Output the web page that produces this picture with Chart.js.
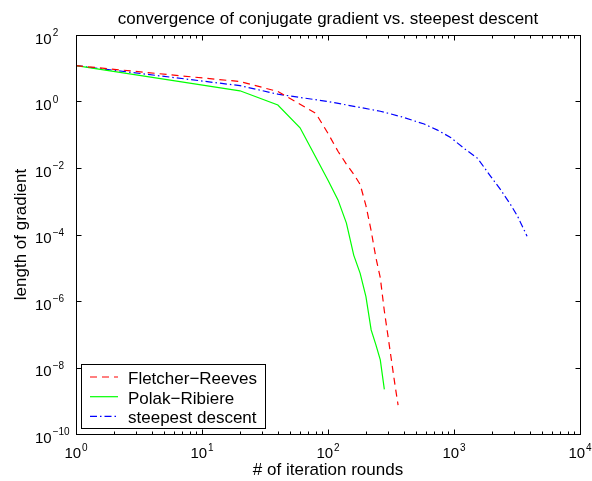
<!DOCTYPE html>
<html>
<head>
<meta charset="utf-8">
<script src="https://cdn.jsdelivr.net/npm/chart.js@4.4.1/dist/chart.umd.min.js"></script>
<style>
  html, body { margin: 0; padding: 0; background: #fff; }
</style>
</head>
<body>
<canvas id="cg" width="592" height="481"></canvas>
<script>
// iteration counts (x) and gradient length (y)
const iterFR = [1, 20, 40, 60, 80, 100, 120, 140, 160, 180, 200, 220, 240, 260, 280, 300, 320, 340, 360];
const fletcherReeves = [12.0, 3.98, 2.0, 0.83, 0.44, 0.11, 0.032, 0.013, 6.5e-3, 3.2e-3, 7.4e-4, 1.3e-4, 2.0e-5, 5.0e-6, 5.0e-7, 8.3e-8, 1.5e-8, 3.0e-9, 7.4e-10];

const iterPR = [1, 20, 40, 60, 80, 100, 120, 140, 160, 180, 200, 220, 240, 260, 280];
const polakRibiere = [12.0, 2.1, 0.785, 0.162, 0.021, 4.3e-3, 1.1e-3, 2.2e-4, 2.4e-5, 6.8e-6, 1.35e-6, 1.35e-7, 4.8e-8, 1.7e-8, 2.2e-9];

const iterSD = [1, 20, 40, 100, 260, 380, 580, 740, 940, 1200, 1540, 1960, 2350, 2820, 3200, 3800];
const steepestDescent = [12.0, 3.0, 1.66, 1.0, 0.51, 0.35, 0.21, 0.138, 0.083, 0.039, 0.0195, 5.5e-3, 2.2e-3, 7.8e-4, 3.5e-4, 8.9e-5];

const seriesNames = ['Fletcher\u2212Reeves', 'Polak\u2212Ribiere', 'steepest descent'];
const xTickExp = [0, 1, 2, 3, 4];
const yTickExp = [2, 0, -2, -4, -6, -8, -10];

const FONT = '"Liberation Sans", Arial, Helvetica, sans-serif';

const toPoints = (xs, ys) => xs.map((v, i) => ({ x: v, y: ys[i] }));

// "10" with a raised exponent, like the original axis labels
function powLabel(ctx, e, x0, base, centered) {
  const b = '10', s = String(e).replace('-', '\u2212');
  ctx.font = '15px ' + FONT;
  const wb = ctx.measureText(b).width;
  ctx.font = '10px ' + FONT;
  const ws = ctx.measureText(s).width;
  const left = centered ? x0 - (wb + 1 + ws) / 2 : x0;
  ctx.font = '15px ' + FONT;
  ctx.fillText(b, left, base);
  ctx.font = '10px ' + FONT;
  ctx.fillText(s, left + wb + 1, base - 7.5);
}

const matlabFrame = {
  id: 'matlabFrame',
  afterDraw(chart) {
    const { ctx, chartArea: a, scales: { x, y } } = chart;
    ctx.save();
    ctx.strokeStyle = '#000';
    ctx.fillStyle = '#000';
    ctx.lineWidth = 1;
    ctx.setLineDash([]);
    const L = a.left + 0.5, R = a.right + 0.5, T = a.top + 0.5, B = a.bottom + 0.5;
    ctx.strokeRect(L, T, R - L, B - T);

    ctx.beginPath();
    for (let d = 0; d < 4; d++) {
      for (let k = 1; k < 10; k++) {
        const px = Math.round(x.getPixelForValue(k * Math.pow(10, d))) + 0.5;
        const len = k === 1 ? 5 : 3;
        ctx.moveTo(px, B); ctx.lineTo(px, B - len);
        ctx.moveTo(px, T); ctx.lineTo(px, T + len);
      }
    }
    yTickExp.forEach(e => {
      const py = Math.round(y.getPixelForValue(Math.pow(10, e))) + 0.5;
      ctx.moveTo(L, py); ctx.lineTo(L + 5, py);
      ctx.moveTo(R, py); ctx.lineTo(R - 5, py);
    });
    ctx.stroke();

    ctx.textAlign = 'left';
    ctx.textBaseline = 'alphabetic';
    xTickExp.forEach(e => {
      powLabel(ctx, e, x.getPixelForValue(Math.pow(10, e)), a.bottom + 24, true);
    });
    yTickExp.forEach(e => {
      powLabel(ctx, e, a.left - 41, y.getPixelForValue(Math.pow(10, e)) + 8.5, false);
    });

    const cx = (a.left + a.right) / 2, cy = (a.top + a.bottom) / 2;
    ctx.font = '17px ' + FONT;
    ctx.textAlign = 'center';
    ctx.fillText('convergence of conjugate gradient vs. steepest descent', cx, 24);
    ctx.fillText('# of iteration rounds', cx, 475);
    ctx.save();
    ctx.translate(26, cy);
    ctx.rotate(-Math.PI / 2);
    ctx.fillText('length of gradient', 0, 0);
    ctx.restore();

    // legend box, lower left
    ctx.fillStyle = '#fff';
    ctx.fillRect(81.5, 364.5, 184, 64);
    ctx.strokeRect(81.5, 364.5, 184, 64);
    ctx.textAlign = 'left';
    chart.data.datasets.forEach((ds, i) => {
      const ly = 377 + i * 19.7;
      ctx.strokeStyle = ds.borderColor;
      ctx.lineWidth = ds.borderWidth;
      ctx.setLineDash(ds.borderDash);
      ctx.beginPath();
      ctx.moveTo(90, ly); ctx.lineTo(118, ly);
      ctx.stroke();
      ctx.fillStyle = '#000';
      ctx.font = '17px ' + FONT;
      ctx.fillText(seriesNames[i], 128, ly + 7);
    });
    ctx.restore();
  }
};

new Chart(document.getElementById('cg').getContext('2d'), {
  type: 'line',
  data: {
    datasets: [
      { label: seriesNames[0], data: toPoints(iterFR, fletcherReeves), borderColor: '#ff0000', borderWidth: 1.2, borderDash: [7, 5] },
      { label: seriesNames[1], data: toPoints(iterPR, polakRibiere), borderColor: '#00ff00', borderWidth: 1.2, borderDash: [] },
      { label: seriesNames[2], data: toPoints(iterSD, steepestDescent), borderColor: '#0000ff', borderWidth: 1.2, borderDash: [7, 3, 1.5, 3] }
    ]
  },
  options: {
    responsive: false,
    animation: false,
    events: [],
    elements: { point: { radius: 0 }, line: { tension: 0, fill: false } },
    layout: { padding: { left: 76, right: 12, top: 35, bottom: 47 } },
    scales: {
      x: { type: 'logarithmic', min: 1, max: 10000, display: false },
      y: { type: 'logarithmic', min: 1e-10, max: 100, display: false }
    },
    plugins: { legend: { display: false }, title: { display: false }, tooltip: { enabled: false } }
  },
  plugins: [matlabFrame]
});
</script>
</body>
</html>
